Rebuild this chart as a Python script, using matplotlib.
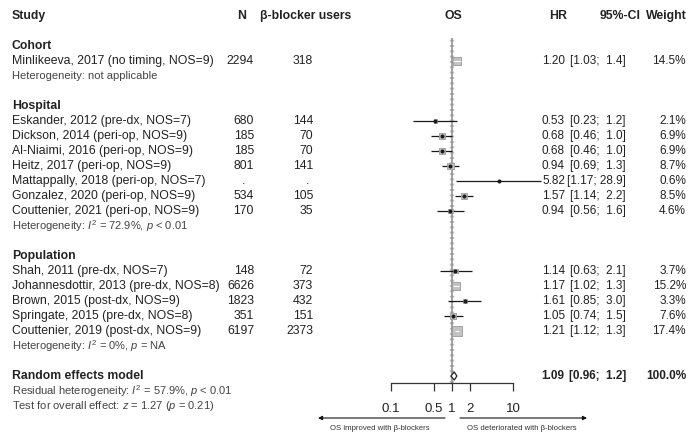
import numpy as np
import matplotlib
matplotlib.use("Agg")
import matplotlib.pyplot as plt

plt.rcParams['font.family'] = ['Liberation Sans', 'DejaVu Sans']
plt.rcParams['mathtext.fontset'] = 'custom'
plt.rcParams['mathtext.rm'] = 'Liberation Sans'
plt.rcParams['mathtext.it'] = 'Liberation Sans:italic'
plt.rcParams['mathtext.bf'] = 'Liberation Sans:bold'

# data
groups = ['Cohort', 'Hospital', 'Population']
het_text = ['Heterogeneity: not applicable',
            'Heterogeneity: $I^2$ = 72.9%, $p$ < 0.01',
            'Heterogeneity: $I^2$ = 0%, $p$ = NA']
study = ['Minlikeeva, 2017 (no timing, NOS=9)',
         'Eskander, 2012 (pre-dx, NOS=7)',
         'Dickson, 2014 (peri-op, NOS=9)',
         'Al-Niaimi, 2016 (peri-op, NOS=9)',
         'Heitz, 2017 (peri-op, NOS=9)',
         'Mattappally, 2018 (peri-op, NOS=7)',
         'Gonzalez, 2020 (peri-op, NOS=9)',
         'Couttenier, 2021 (peri-op, NOS=9)',
         'Shah, 2011 (pre-dx, NOS=7)',
         'Johannesdottir, 2013 (pre-dx, NOS=8)',
         'Brown, 2015 (post-dx, NOS=9)',
         'Springate, 2015 (pre-dx, NOS=8)',
         'Couttenier, 2019 (post-dx, NOS=9)']
group = [0, 1, 1, 1, 1, 1, 1, 1, 2, 2, 2, 2, 2]
n_total = ['2294', '680', '185', '185', '801', '.', '534', '170',
           '148', '6626', '1823', '351', '6197']
n_users = ['318', '144', '70', '70', '141', '.', '105', '35',
           '72', '373', '432', '151', '2373']
hr = [1.20, 0.53, 0.68, 0.68, 0.94, 5.82, 1.57, 0.94, 1.14, 1.17, 1.61, 1.05, 1.21]
lo = [1.03, 0.23, 0.46, 0.46, 0.69, 1.17, 1.14, 0.56, 0.63, 1.02, 0.85, 0.74, 1.12]
hi = [1.4, 1.2, 1.0, 1.0, 1.3, 28.9, 2.2, 1.6, 2.1, 1.3, 3.0, 1.5, 1.3]
weight = [14.5, 2.1, 6.9, 6.9, 8.7, 0.6, 8.5, 4.6, 3.7, 15.2, 3.3, 7.6, 17.4]

re_hr, re_lo, re_hi, re_w = 1.09, 0.96, 1.2, 100.0
re_lines = ['Residual heterogeneity: $I^2$ = 57.9%, $p$ < 0.01',
            'Test for overall effect: $z$ = 1.27 ($p$ = 0.21)']
ticks = [0.1, 0.5, 1, 2, 10]
tick_labels = ['0.1', '0.5', '1', '2', '10']

# row layout: one row = 15 px, row 0 = header
W, H = 689, 433
def ypix(r):
    return 16 + 15 * r

rows = []
group_rows = []
het_rows = []
r = 2
for g in range(len(groups)):
    group_rows.append(r)
    r += 1
    for i in range(len(study)):
        if group[i] == g:
            rows.append(r)
            r += 1
    het_rows.append(r)
    r += 2
re_row = r
rows = np.array(rows, dtype=float)

fig = plt.figure(figsize=(W / 100, H / 100), dpi=100)

# text layer in pixel coordinates
ax_t = fig.add_axes([0, 0, 1, 1])
ax_t.set_xlim(0, W)
ax_t.set_ylim(H, 0)
ax_t.axis('off')

fs = 8.8
fs_num = 8.5
fs_het = 8.0
txt = '#222222'
hcol = '#444444'

def ci_str(l, h):
    # one extra space for short upper bounds, like the original layout
    hs = '%.1f' % h
    if h < 10:
        hs = ' ' + hs
    return '[%.2f; %s]' % (l, hs)

# header
y0 = ypix(0)
ax_t.text(12, y0, 'Study', fontsize=fs, fontweight='bold', va='center', color=txt)
ax_t.text(242, y0, 'N', fontsize=fs, fontweight='bold', va='center', ha='center', color=txt)
ax_t.text(306, y0, 'β-blocker users', fontsize=fs, fontweight='bold', va='center', ha='center', color=txt)
ax_t.text(453, y0, 'OS', fontsize=fs, fontweight='bold', va='center', ha='center', color=txt)
ax_t.text(567, y0, 'HR', fontsize=fs, fontweight='bold', va='center', ha='right', color=txt)
ax_t.text(641, y0, '95%-CI', fontsize=fs, fontweight='bold', va='center', ha='right', color=txt)
ax_t.text(646, y0, 'Weight', fontsize=fs, fontweight='bold', va='center', ha='left', color=txt)

for g in range(len(groups)):
    ax_t.text(12, ypix(group_rows[g]), groups[g], fontsize=fs, fontweight='bold', va='center', color=txt)
    ax_t.text(12, ypix(het_rows[g]), het_text[g], fontsize=fs_het, va='center', color=hcol)

for i in range(len(study)):
    y = ypix(rows[i])
    ax_t.text(12, y, study[i], fontsize=fs, va='center', color=txt)
    if n_total[i] == '.':
        ax_t.text(244, y, n_total[i], fontsize=fs, va='center', ha='center', color=txt)
        ax_t.text(308, y, n_users[i], fontsize=fs, va='center', ha='center', color=txt)
    else:
        ax_t.text(254, y, n_total[i], fontsize=fs, va='center', ha='right', color=txt)
        ax_t.text(313, y, n_users[i], fontsize=fs, va='center', ha='right', color=txt)
    ax_t.text(565, y, '%.2f' % hr[i], fontsize=fs_num, va='center', ha='right', color=txt)
    ax_t.text(626, y, ci_str(lo[i], hi[i]), fontsize=fs_num, va='center', ha='right', color=txt)
    ax_t.text(686, y, '%.1f%%' % weight[i], fontsize=fs_num, va='center', ha='right', color=txt)

yr = ypix(re_row)
ax_t.text(12, yr, 'Random effects model', fontsize=fs, fontweight='bold', va='center', color=txt)
ax_t.text(564, yr, '%.2f' % re_hr, fontsize=fs_num, fontweight='bold', va='center', ha='right', color=txt)
ax_t.text(626, yr, ci_str(re_lo, re_hi), fontsize=fs_num, fontweight='bold', va='center', ha='right', color=txt)
ax_t.text(686, yr, '%.1f%%' % re_w, fontsize=fs_num, fontweight='bold', va='center', ha='right', color=txt)
for k, line in enumerate(re_lines):
    ax_t.text(12, ypix(re_row + 1 + k), line, fontsize=fs_het, va='center', color=hcol)

# direction arrows under the axis
arr = dict(arrowstyle='-|>', color='#111111', lw=0.8, mutation_scale=6, shrinkA=0, shrinkB=0)
ax_t.annotate('', xy=(318, 418), xytext=(445, 418), arrowprops=arr)
ax_t.annotate('', xy=(587, 418), xytext=(460, 418), arrowprops=arr)
ax_t.text(380, 428, 'OS improved with β-blockers', fontsize=5.6, ha='center', va='center', color='#333333')
ax_t.text(522, 428, 'OS deteriorated with β-blockers', fontsize=5.6, ha='center', va='center', color='#333333')

# forest panel, log scale
top_px, bot_px = 38, 383
ax = fig.add_axes([391 / W, (H - bot_px) / H, 122 / W, (bot_px - top_px) / H])
ax.patch.set_alpha(0)
ax.set_xscale('log')
ax.set_xlim(0.1, 10)
ax.set_ylim((bot_px - 16) / 15, (top_px - 16) / 15)
for s in ['left', 'right', 'top']:
    ax.spines[s].set_visible(False)
ax.spines['bottom'].set_color('#333333')
ax.spines['bottom'].set_linewidth(0.9)
ax.set_yticks([])
ax.set_xticks(ticks)
ax.set_xticklabels(tick_labels)
ax.minorticks_off()
ax.tick_params(axis='x', direction='out', length=5.8, width=0.9, pad=8.5,
               labelsize=9.5, colors='#333333', labelcolor='#222222')

ax.axvline(1, color='#c4c4c4', lw=3.2, ls=(0, (0.45, 0.75)), zorder=1)
ax.axvline(1, color='#8a8a8a', lw=1.1, zorder=1)

hr_a = np.array(hr)
lo_a = np.array(lo)
hi_a = np.array(hi)
w_a = np.array(weight)

ax.hlines(rows, lo_a, hi_a, color='#1a1a1a', lw=0.9, zorder=3, clip_on=False)
side = 2.2 * np.sqrt(w_a) * 0.72
ax.scatter(hr_a, rows, marker='s', s=side ** 2, facecolor='#c2c2c2',
           edgecolor='#9a9a9a', linewidths=0.6, zorder=4, clip_on=False)
big = w_a > 12
ax.hlines(rows[big], lo_a[big], hi_a[big], color='white', lw=0.8, zorder=5)
small = ~big
ax.plot(hr_a[small], rows[small], 'o', ms=1.9, color='#1a1a1a', zorder=5, clip_on=False)

ax.fill([re_lo, re_hr, re_hi, re_hr], [re_row, re_row - 0.27, re_row, re_row + 0.27],
        facecolor='white', edgecolor='#222222', lw=0.9, zorder=6)

fig.savefig('out.png', dpi=100)
